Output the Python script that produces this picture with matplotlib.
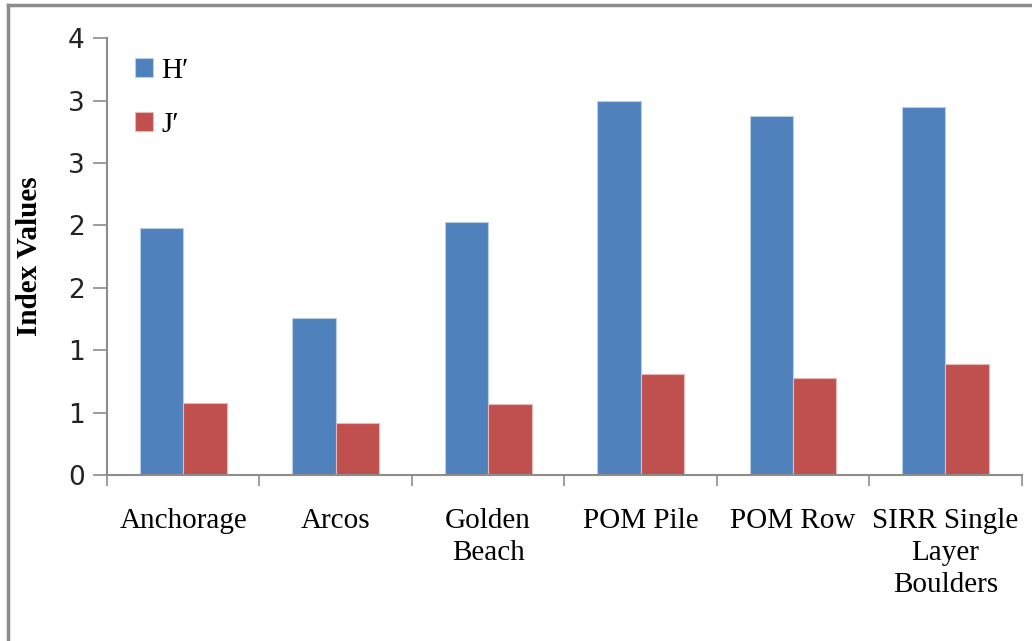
import numpy as np
import matplotlib.pyplot as plt
from matplotlib.lines import Line2D

sites = ["Anchorage", "Arcos", "Golden\nBeach", "POM Pile", "POM Row",
         "SIRR Single\nLayer\nBoulders"]
h_index = [1.98, 1.26, 2.03, 3.00, 2.88, 2.95]
j_index = [0.58, 0.42, 0.57, 0.81, 0.78, 0.89]
y_ticks = [0, 0.5, 1.0, 1.5, 2.0, 2.5, 3.0, 3.5]
y_labels = ["0", "1", "1", "2", "2", "3", "3", "4"]

blue = "#4F81BD"
red = "#C0504D"
grey = "#8C8C8C"

fig = plt.figure(figsize=(10.32, 6.41), dpi=100)
ax = fig.add_axes([0.1037, 0.259, 0.8863, 0.6813])

x = np.arange(len(sites))
w = 0.285
ax.bar(x - w / 2, h_index, w, color=blue, edgecolor="#B9CDE5", linewidth=0.8, label="H\u2032")
ax.bar(x + w / 2, j_index, w, color=red, edgecolor="#E6B9B8", linewidth=0.8, label="J\u2032")

ax.set_xlim(-0.5, len(sites) - 0.5)
ax.set_ylim(0, 3.5)
ax.set_yticks(y_ticks)
ax.set_yticklabels(y_labels, fontsize=19, family="DejaVu Sans", color="#222222")

# category labels centred, tick marks on the group boundaries
ax.set_xticks(x)
ax.set_xticklabels(sites, fontsize=21, family="Liberation Serif", linespacing=1.3)
ax.tick_params(axis="x", length=0, pad=24)
ax.set_xticks(np.arange(len(sites) + 1) - 0.5, minor=True)
ax.tick_params(axis="x", which="minor", length=8, color=grey, width=1.2, direction="out")
ax.tick_params(axis="y", length=10, color=grey, width=1.2, pad=6)

for s in ["top", "right"]:
    ax.spines[s].set_visible(False)
for s in ["left", "bottom"]:
    ax.spines[s].set_color(grey)
    ax.spines[s].set_linewidth(1.5)

ax.set_ylabel("Index Values", fontsize=21, family="Liberation Serif", fontweight="bold", labelpad=18)

leg = ax.legend(loc="upper left", bbox_to_anchor=(0.002, 1.015), frameon=False,
                prop={"family": "Liberation Serif", "size": 21},
                handlelength=0.6, handleheight=0.6, handletextpad=0.3, labelspacing=0.95)

# outer frame of the chart area
fig.add_artist(Line2D([8 / 1032, 1.0], [1 - 5 / 641, 1 - 5 / 641], color=grey, lw=2.5))
fig.add_artist(Line2D([8 / 1032, 8 / 1032], [0.0, 1 - 5 / 641], color=grey, lw=2.5))

fig.savefig("out.png", dpi=100)
